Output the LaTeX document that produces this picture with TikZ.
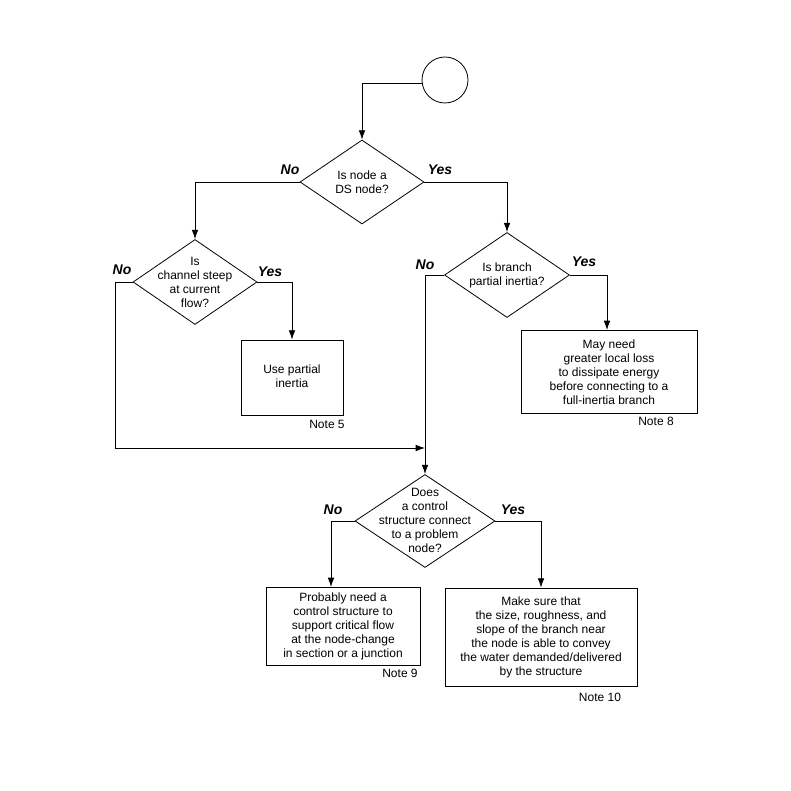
\documentclass[tikz,border=0pt]{standalone}
\usepackage{fontspec}
\setmainfont{Liberation Sans}
\usetikzlibrary{shapes.geometric,arrows.meta}
\begin{document}
\begin{tikzpicture}[x=0.75pt,y=-0.75pt,
  every node/.style={font=\fontsize{9}{10.5}\selectfont},
  dia/.style={draw,diamond,inner sep=0pt},
  box/.style={draw,inner sep=0pt},
  txt/.style={align=center,inner sep=0pt},
  yn/.style={font=\fontsize{10.5}{12}\selectfont\bfseries\itshape},
  arr/.style={-{Latex[length=7pt,width=5pt]}},
  line width=0.6pt]
\useasboundingbox (0,0) rectangle (791,791);
% start
\node[draw,circle,minimum size=46*0.75pt,inner sep=0pt] (start) at (445,80) {};
\coordinate (c1) at (362,83);
% diamond 1
\node[dia,minimum width=124*0.75pt,minimum height=84*0.75pt] (d1) at (362,182) {};
\node[txt] at (362,182) {Is node a\\DS node?};
\node[yn] at (290,170) {No};
\node[yn] at (440,170) {Yes};
% diamond 2
\node[dia,minimum width=124*0.75pt,minimum height=85*0.75pt] (d2) at (195,282) {};
\node[txt] at (195,282) {Is\\channel steep\\at current\\flow?};
\node[yn] at (122,270) {No};
\node[yn] at (270,272) {Yes};
% diamond 3
\node[dia,minimum width=125*0.75pt,minimum height=85*0.75pt] (d3) at (507,275) {};
\node[txt] at (507,275) {Is branch\\partial inertia?};
\node[yn] at (425,265) {No};
\node[yn] at (584,262) {Yes};
% diamond 4
\node[dia,minimum width=140*0.75pt,minimum height=93*0.75pt] (d4) at (425,521) {};
\node[txt] at (425,520) {Does\\a control\\structure connect\\to a problem\\node?};
\node[yn] at (333,510) {No};
\node[yn] at (513,510) {Yes};
% boxes
\node[box,minimum width=102*0.75pt,minimum height=75*0.75pt] (b1) at (292,377.5) {};
\node[txt] at (292,376) {Use partial\\inertia};
\node at (327,424) {Note 5};
\node[box,minimum width=176*0.75pt,minimum height=83*0.75pt] (b2) at (609,371.5) {};
\node[txt] at (609,372) {May need\\greater local loss\\to dissipate energy\\before connecting to a\\full-inertia branch};
\node at (656,421) {Note 8};
\node[box,minimum width=154*0.75pt,minimum height=78*0.75pt] (b3) at (343,626) {};
\node[txt] at (343,626) {Probably need a\\control structure to\\support critical flow\\at the node-change\\in section or a junction};
\node at (400,673) {Note 9};
\node[box,minimum width=192*0.75pt,minimum height=98*0.75pt] (b4) at (541,637) {};
\node[txt] at (541,637) {Make sure that\\the size, roughness, and\\slope of the branch near\\the node is able to convey\\the water demanded/delivered\\by the structure};
\node at (600,697) {Note 10};
% connectors
\draw[arr] (start.west) ++(0,3) -- (c1) -- (d1.north);
\draw[arr] (d1.west) -| (d2.north);
\draw[arr] (d1.east) -| (d3.north);
\draw[arr] (d2.east) -| (b1.north);
\coordinate (j) at (425,448);
\draw[arr] (d2.west) -- (115,282) -- (115,448) -- (j);
\draw[arr] (d3.west) -| (d4.north);
\draw[arr] (d3.east) -| (607,330);
\draw[arr] (d4.west) -| (331,587);
\draw[arr] (d4.east) -| (b4.north);
\end{tikzpicture}
\end{document}
